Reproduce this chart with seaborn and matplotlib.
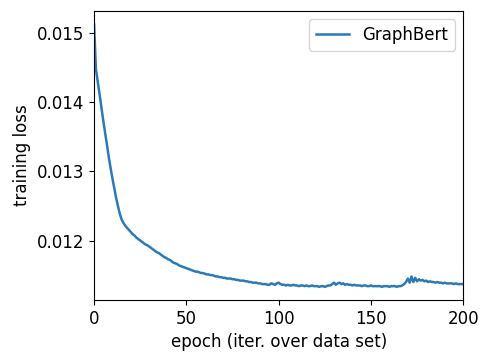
import matplotlib
matplotlib.use("Agg")
import matplotlib.pyplot as plt
import seaborn as sns
import pandas as pd

epochs = list(range(0, 201))
loss_graphbert = [
    0.01513, 0.01448, 0.01430, 0.01411, 0.01392, 0.01373, 0.01356, 0.01338, 0.01320, 0.01304,
    0.01289, 0.01275, 0.01261, 0.01249, 0.01238, 0.01230, 0.01225, 0.01221, 0.01218, 0.01215,
    0.01212, 0.01209, 0.01207, 0.01204, 0.01202, 0.01200, 0.01198, 0.01196, 0.01194, 0.01193,
    0.01191, 0.01189, 0.01187, 0.01185, 0.01183, 0.01182, 0.01180, 0.01178, 0.01176, 0.01175,
    0.01173, 0.01172, 0.01170, 0.01168, 0.01167, 0.01166, 0.01164, 0.01163, 0.01162, 0.01161,
    0.01160, 0.01159, 0.01158, 0.01157, 0.01156, 0.01155, 0.01155, 0.01154, 0.01153, 0.01153,
    0.01152, 0.01151, 0.01151, 0.01150, 0.01150, 0.01149, 0.01148, 0.01148, 0.01147, 0.01147,
    0.01146, 0.01146, 0.01145, 0.01145, 0.01145, 0.01144, 0.01144, 0.01143, 0.01143, 0.01142,
    0.01142, 0.01142, 0.01141, 0.01141, 0.01140, 0.01140, 0.01139, 0.01139, 0.01139, 0.01138,
    0.01138, 0.01137, 0.01137, 0.01137, 0.01136, 0.01136, 0.01138, 0.01137, 0.01136, 0.01138,
    0.01139, 0.01137, 0.01136, 0.01136, 0.01135, 0.01136, 0.01135, 0.01135, 0.01136, 0.01135,
    0.01135, 0.01134, 0.01135, 0.01135, 0.01134, 0.01135, 0.01134, 0.01134, 0.01135, 0.01134,
    0.01134, 0.01134, 0.01133, 0.01134, 0.01134, 0.01133, 0.01134, 0.01135, 0.01135, 0.01137,
    0.01139, 0.01136, 0.01138, 0.01139, 0.01137, 0.01138, 0.01136, 0.01137, 0.01136, 0.01136,
    0.01135, 0.01136, 0.01135, 0.01135, 0.01135, 0.01134, 0.01135, 0.01135, 0.01134, 0.01134,
    0.01135, 0.01134, 0.01134, 0.01134, 0.01134, 0.01134, 0.01133, 0.01134, 0.01134, 0.01134,
    0.01133, 0.01134, 0.01134, 0.01134, 0.01133, 0.01134, 0.01134, 0.01135, 0.01137, 0.01140,
    0.01145, 0.01139, 0.01148, 0.01140, 0.01146, 0.01141, 0.01144, 0.01142, 0.01143, 0.01141,
    0.01142, 0.01140, 0.01141, 0.01140, 0.01140, 0.01139, 0.01140, 0.01139, 0.01139, 0.01138,
    0.01139, 0.01138, 0.01138, 0.01138, 0.01138, 0.01137, 0.01138, 0.01137, 0.01137, 0.01137,
    0.01137,
]
series_name = "GraphBert"

df = pd.DataFrame({"epoch": epochs, "loss": loss_graphbert, "model": series_name})

plt.rcParams["font.family"] = ["DejaVu Sans"]
fig = plt.figure(figsize=(4.8, 3.55), dpi=100)
ax = fig.add_axes([0.196, 0.155, 0.769, 0.814])
sns.lineplot(data=df, x="epoch", y="loss", hue="model", palette=["#2a7ab8"],
             linewidth=1.8, ax=ax)
ax.set_xlim(0, 200)
ax.set_xticks([0, 50, 100, 150, 200])
ax.set_yticks([0.012, 0.013, 0.014, 0.015])
ax.tick_params(labelsize=12)
ax.set_xlabel("epoch (iter. over data set)", fontsize=12)
ax.set_ylabel("training loss", fontsize=12)
ax.legend(loc="upper right", fontsize=12, title=None)
fig.savefig("out.png", dpi=100)
